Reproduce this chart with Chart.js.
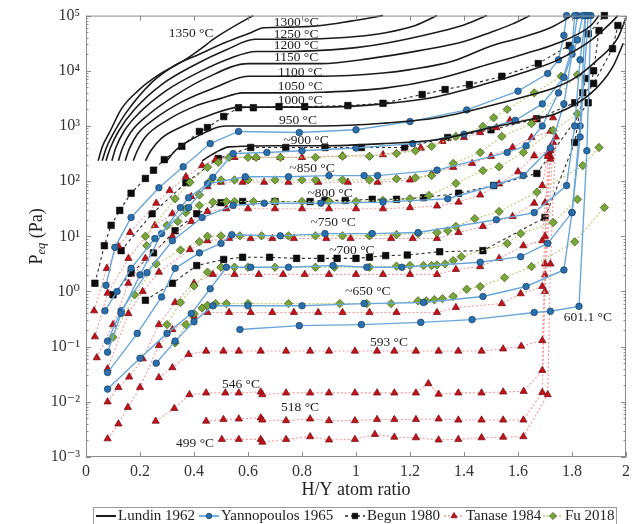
<!DOCTYPE html>
<html>
<head>
<meta charset="utf-8">
<script src="https://cdn.jsdelivr.net/npm/chart.js@4.4.0/dist/chart.umd.min.js"></script>
<style>
  html, body { margin: 0; padding: 0; background: #fff; }
  #wrap { width: 643px; height: 524px; position: relative; }
</style>
</head>
<body>
<div id="wrap"><canvas id="chart"></canvas></div>
<script>
// ---- data: [H/Y atom ratio, P_eq in Pa] ----

// Lundin 1962 isotherms (solid black)
const lundin1350 = [[0.045,234],[0.06,417],[0.089,794],[0.13,2000],[0.193,4370],[0.27,8500],[0.36,15100],[0.42,24000],[0.48,39800],[0.6,89100],[0.62,100000]];
const lundin1300 = [[0.06,234],[0.075,398],[0.1,708],[0.15,1780],[0.244,6170],[0.33,12600],[0.42,20000],[0.52,33100],[0.6,46800],[0.66,60300],[0.75,61700],[0.87,66100],[0.98,79400],[1.1,100000]];
const lundin1250 = [[0.074,234],[0.09,398],[0.12,794],[0.18,2000],[0.28,5620],[0.4,12600],[0.52,24000],[0.626,37200],[0.75,37200],[0.87,38000],[1.0,41700],[1.11,49000],[1.22,66100],[1.3,100000]];
const lundin1200 = [[0.096,234],[0.11,398],[0.14,794],[0.2,1780],[0.3,4470],[0.42,9550],[0.53,16600],[0.63,22400],[0.75,22400],[0.87,23400],[1.0,26300],[1.11,31600],[1.3,50100],[1.4,67600],[1.485,100000]];
const lundin1150 = [[0.12,234],[0.135,398],[0.165,759],[0.23,1580],[0.33,3550],[0.45,7590],[0.6,13500],[0.75,13500],[0.87,13500],[1.05,16600],[1.24,23400],[1.4,33900],[1.5,50100],[1.58,70800],[1.644,100000]];
const lundin1100 = [[0.145,234],[0.16,380],[0.19,708],[0.26,1410],[0.36,2820],[0.48,5010],[0.6,7940],[0.75,7940],[0.87,7940],[1.1,9120],[1.2,10500],[1.36,15100],[1.5,28200],[1.61,39800],[1.72,60300],[1.8,100000]];
const lundin1050 = [[0.175,234],[0.19,355],[0.22,631],[0.3,1260],[0.4,2240],[0.5,3160],[0.58,3980],[0.75,3980],[0.87,4070],[1.1,4790],[1.3,7080],[1.5,13500],[1.62,20000],[1.74,30900],[1.87,66100],[1.9,100000]];
const lundin1000 = [[0.22,234],[0.24,355],[0.28,603],[0.36,1000],[0.46,1580],[0.57,2190],[0.75,2190],[0.87,2190],[1.1,2510],[1.3,3390],[1.5,6170],[1.62,9330],[1.74,15100],[1.87,35500],[1.94,70800],[1.97,100000]];
const lundin950 = [[0.3,234],[0.33,355],[0.4,603],[0.52,1000],[0.7,1000],[0.87,1000],[1.1,1120],[1.3,1410],[1.5,2340],[1.64,3550],[1.74,5010],[1.82,7940],[1.89,15100],[1.97,39800],[2.0,91200]];
const lundin900 = [[0.43,234],[0.48,331],[0.53,417],[0.7,437],[0.87,437],[1.1,479],[1.3,562],[1.5,933],[1.65,1320],[1.74,1660],[1.87,3890],[1.95,11500],[1.99,31600]];

// Begun 1980 (black squares, dashed)
const begun1000 = [[0.033,1.41],[0.068,6.76],[0.093,15.8],[0.125,29.5],[0.167,60.3],[0.22,112],[0.25,158],[0.29,245],[0.355,427],[0.42,794],[0.45,933],[0.51,1480],[0.565,2140],[0.62,2140],[0.715,2240],[0.81,2240],[0.97,2340],[1.1,2570],[1.245,3720],[1.33,4570],[1.42,5620],[1.54,7940],[1.675,13500],[1.79,28800],[1.86,46800],[1.92,100000]];
const begun900 = [[0.13,5.5],[0.245,25.7],[0.37,93.3],[0.49,257],[0.61,407],[0.74,407],[0.885,407],[1.02,407],[1.18,407],[1.34,617],[1.5,851],[1.67,1350],[1.81,2630],[1.88,5890],[1.95,25100],[1.97,66100]];
const begun800 = [[0.1,0.871],[0.167,2.14],[0.25,5.01],[0.33,12.6],[0.41,25.7],[0.5,40.7],[0.58,42.7],[0.7,42.7],[0.83,42.7],[0.885,44.7],[0.96,44.7],[1.06,46.8],[1.15,46.8],[1.25,50.1],[1.38,60.3],[1.51,83.2],[1.67,138],[1.86,2630],[1.88,10000],[1.9,53700]];
const begun700 = [[0.22,0.692],[0.32,1.41],[0.41,2.95],[0.51,3.8],[0.58,4.17],[0.68,4.17],[0.78,3.98],[0.87,3.98],[0.93,3.98],[1.0,3.98],[1.05,4.17],[1.11,4.47],[1.19,4.57],[1.31,5.25],[1.47,5.5],[1.7,21.9],[1.81,501],[1.84,3980],[1.85,7240]];

// Yannopoulos 1965 (blue circles)
const yann950 = [[0.074,1.29],[0.107,6.31],[0.167,21.9],[0.27,75.9],[0.36,182],[0.46,479],[0.565,794],[0.79,759],[1.0,851],[1.2,1200],[1.41,1950],[1.6,4270],[1.71,8910],[1.75,15800],[1.77,43700],[1.78,100000]];
const yann900 = [[0.07,0.447],[0.115,1.0],[0.167,2.63],[0.255,9.12],[0.38,33.1],[0.47,117],[0.545,316],[0.67,331],[0.8,355],[1.0,398],[1.21,479],[1.4,708],[1.59,1260],[1.69,2510],[1.77,7590],[1.82,36300],[1.84,100000]];
const yann850 = [[0.08,0.0794],[0.13,0.398],[0.2,2.0],[0.28,11.2],[0.35,33.1],[0.38,50.1],[0.45,89.1],[0.59,120],[0.75,120],[0.9,126],[1.03,126],[1.08,126],[1.3,158],[1.56,331],[1.63,437],[1.69,1000],[1.75,3980],[1.8,25100],[1.81,100000]];
const yann800 = [[0.08,0.126],[0.13,0.447],[0.226,2.19],[0.32,8.32],[0.43,21.9],[0.545,36.3],[0.66,39.8],[0.87,39.8],[1.1,41.7],[1.34,47.9],[1.51,83.2],[1.62,126],[1.72,398],[1.77,2510],[1.8,20000],[1.82,100000]];
const yann750 = [[0.08,0.0339],[0.19,0.174],[0.28,0.794],[0.33,2.63],[0.42,5.01],[0.5,7.41],[0.54,10.7],[0.72,10.2],[0.885,11.2],[1.06,11.2],[1.23,11.7],[1.52,20.0],[1.66,26.9],[1.78,83.2],[1.81,1000],[1.83,15800],[1.85,100000]];
const yann700 = [[0.08,0.017],[0.2,0.0617],[0.3,0.174],[0.39,0.398],[0.46,1.12],[0.52,2.75],[0.61,2.75],[0.75,2.75],[0.915,2.95],[1.04,2.75],[1.17,2.75],[1.46,3.39],[1.61,4.27],[1.71,7.41],[1.8,26.9],[1.83,631],[1.86,100000]];
const yann650 = [[0.26,0.0501],[0.33,0.126],[0.4,0.282],[0.47,0.55],[0.6,0.55],[0.8,0.55],[1.03,0.603],[1.25,0.631],[1.47,0.813],[1.63,1.23],[1.77,2.45],[1.8,26.9],[1.83,1000],[1.85,100000]];
const yann601 = [[0.57,0.204],[0.79,0.24],[1.02,0.251],[1.24,0.275],[1.43,0.309],[1.66,0.417],[1.72,0.437],[1.826,0.537],[1.855,355],[1.87,100000]];

// Tanase 1984 (red triangles)
const tanase900 = [[0.03,0.447],[0.077,2.63],[0.12,6.61],[0.163,11.7],[0.26,39.8],[0.31,67.6],[0.37,120],[0.43,191],[0.48,245],[0.55,269],[0.63,269],[0.72,269],[0.8,269],[0.95,288],[1.1,302],[1.24,398],[1.32,525],[1.4,617],[1.46,759],[1.52,933],[1.57,1260],[1.66,1320],[1.73,1410]];
const tanase850 = [[0.033,0.151],[0.08,0.933],[0.157,3.98],[0.255,15.8],[0.32,25.7],[0.39,52.5],[0.45,79.4],[0.5,95.5],[0.58,95.5],[0.66,95.5],[0.75,95.5],[0.86,95.5],[0.97,95.5],[1.08,95.5],[1.2,105],[1.28,135],[1.36,178],[1.43,209],[1.5,282],[1.58,407],[1.65,617],[1.72,794]];
const tanase800 = [[0.04,0.0631],[0.1,0.251],[0.157,1.41],[0.22,3.98],[0.32,10.0],[0.39,18.6],[0.45,28.2],[0.52,31.6],[0.6,31.6],[0.7,31.6],[0.8,31.6],[0.9,31.6],[1.0,31.6],[1.1,31.6],[1.2,33.1],[1.3,35.5],[1.38,41.7],[1.46,56.2],[1.53,89.1],[1.6,148],[1.66,288],[1.72,355]];
const tanase750 = [[0.08,0.0398],[0.157,0.398],[0.21,1.0],[0.27,2.24],[0.385,5.75],[0.45,8.32],[0.53,9.12],[0.61,9.12],[0.69,9.12],[0.77,9.12],[0.89,9.12],[0.98,9.12],[1.13,9.12],[1.21,9.12],[1.3,9.12],[1.38,11.7],[1.47,15.1],[1.58,22.9],[1.66,39.8],[1.69,83.2],[1.71,282]];
const tanase700 = [[0.08,0.01],[0.12,0.0182],[0.16,0.0282],[0.21,0.0603],[0.27,0.251],[0.33,0.631],[0.4,1.41],[0.47,2.04],[0.55,2.04],[0.64,2.04],[0.73,2.04],[0.81,2.04],[0.9,2.04],[1.0,2.04],[1.1,2.04],[1.2,2.04],[1.3,2.04],[1.37,2.51],[1.46,2.82],[1.53,3.98],[1.62,6.76],[1.69,8.32],[1.7,40.7],[1.72,251]];
const tanase650 = [[0.08,0.00214],[0.12,0.00398],[0.155,0.00794],[0.2,0.0182],[0.27,0.105],[0.32,0.204],[0.4,0.355],[0.45,0.417],[0.53,0.417],[0.61,0.417],[0.69,0.417],[0.77,0.417],[0.86,0.417],[0.95,0.417],[1.05,0.417],[1.15,0.417],[1.3,0.417],[1.37,0.513],[1.54,0.603],[1.61,0.912],[1.69,1.23],[1.7,10.0],[1.72,282]];
const tanase593 = [[0.27,0.0275],[0.32,0.0417],[0.38,0.0724],[0.445,0.0832],[0.509,0.0832],[0.566,0.0832],[0.647,0.0832],[0.741,0.0832],[0.83,0.0832],[0.9,0.0832],[0.996,0.0832],[1.078,0.0832],[1.142,0.0832],[1.222,0.0832],[1.306,0.0832],[1.379,0.0832],[1.465,0.0832],[1.545,0.0912],[1.612,0.102],[1.69,0.129],[1.7,3.16],[1.71,316]];
const tanase546 = [[0.258,0.00447],[0.327,0.00759],[0.383,0.0135],[0.445,0.0145],[0.516,0.0145],[0.566,0.0145],[0.647,0.0151],[0.653,0.0135],[0.741,0.0145],[0.83,0.0145],[0.9,0.0145],[0.996,0.0145],[1.078,0.0145],[1.142,0.0145],[1.222,0.0145],[1.268,0.0214],[1.306,0.0138],[1.379,0.0145],[1.465,0.0145],[1.545,0.0151],[1.621,0.0155],[1.69,0.0372],[1.7,2.0],[1.72,398]];
const tanase518 = [[0.445,0.00447],[0.509,0.00479],[0.566,0.0049],[0.647,0.00513],[0.653,0.00468],[0.741,0.00457],[0.83,0.0049],[0.9,0.00457],[0.996,0.00457],[1.078,0.00479],[1.142,0.00479],[1.222,0.00479],[1.306,0.0049],[1.379,0.00468],[1.465,0.00468],[1.545,0.00468],[1.62,0.00468],[1.69,0.0148],[1.7,1.0],[1.73,501]];
const tanase499 = [[0.503,0.00209],[0.566,0.00209],[0.647,0.00209],[0.653,0.00186],[0.741,0.00209],[0.83,0.00234],[0.9,0.00204],[0.996,0.00209],[1.07,0.00257],[1.142,0.00229],[1.222,0.00224],[1.306,0.00204],[1.379,0.00209],[1.465,0.00224],[1.545,0.00229],[1.62,0.00234],[1.71,0.0135],[1.72,3.16],[1.74,631]];

// Fu 2018 (green diamonds)
const fu900 = [[0.22,10.0],[0.33,47.9],[0.385,95.5],[0.45,178],[0.49,219],[0.53,269],[0.6,269],[0.63,269],[0.72,269],[0.85,269],[0.95,282],[1.05,282],[1.15,316],[1.22,355],[1.28,427],[1.37,646],[1.47,977],[1.51,1410],[1.56,2000],[1.66,3980],[1.76,7940]];
const fu850 = [[0.3,15.8],[0.37,31.6],[0.42,56.2],[0.46,100],[0.5,105],[0.55,105],[0.6,105],[0.7,105],[0.8,105],[0.85,105],[0.95,105],[1.05,105],[1.15,110],[1.22,115],[1.28,126],[1.36,209],[1.46,331],[1.54,646],[1.65,1100],[1.82,8510]];
const fu800 = [[0.225,6.76],[0.34,18.6],[0.37,26.9],[0.42,36.3],[0.47,41.7],[0.52,42.7],[0.55,42.7],[0.62,42.7],[0.7,42.7],[0.8,42.7],[0.9,42.7],[1.0,42.7],[1.1,44.7],[1.2,47.9],[1.27,55],[1.37,91.2],[1.47,155],[1.53,182],[1.62,331],[1.73,832],[1.82,1660]];
const fu750 = [[0.1,0.148],[0.18,0.871],[0.26,3.16],[0.35,5.62],[0.42,7.94],[0.45,10.0],[0.5,10.2],[0.57,10.2],[0.65,10.2],[0.75,10.2],[0.85,10.2],[0.95,10.2],[1.05,10.2],[1.15,10.7],[1.23,11.2],[1.3,11.7],[1.34,12.6],[1.37,15.1],[1.44,20.9],[1.53,28.2],[1.67,63.1],[1.84,191],[1.9,407]];
const fu700 = [[0.3,0.251],[0.35,0.631],[0.4,1.26],[0.45,2.24],[0.5,2.75],[0.55,2.75],[0.6,2.75],[0.7,2.75],[0.85,2.75],[0.92,2.75],[1.05,2.75],[1.15,2.88],[1.2,2.95],[1.25,2.95],[1.28,2.95],[1.3,3.02],[1.33,3.16],[1.36,3.63],[1.39,4.27],[1.56,7.41],[1.61,11.2],[1.73,17.8],[1.82,46.8]];
const fu650 = [[0.33,0.117],[0.37,0.251],[0.4,0.398],[0.43,0.501],[0.45,0.562],[0.48,0.603],[0.52,0.603],[0.6,0.603],[0.75,0.603],[0.94,0.603],[1.04,0.603],[1.13,0.603],[1.23,0.676],[1.26,0.676],[1.29,0.708],[1.32,0.741],[1.36,0.813],[1.41,1.1],[1.46,1.23],[1.55,1.78],[1.65,2.82],[1.81,7.94],[1.92,33.1]];

// isotherm labels, anchored in data units
const labelText = ['1350 °C','1300 °C','1250 °C','1200 °C','1150 °C','1100 °C','1050 °C','1000 °C','950 °C','~900 °C','~850 °C','~800 °C','~750 °C','~700 °C','~650 °C','601.1 °C','593 °C','546 °C','518 °C','499 °C'];
const labelX = [0.389,0.778,0.778,0.778,0.778,0.793,0.793,0.793,0.785,0.815,0.837,0.904,0.915,0.985,1.044,1.859,1.122,0.574,0.793,0.404];
const labelP = [47200,74600,45300,28600,17300,9270,5170,2880,1250,544,169,59.6,17.8,5.53,1.0,0.338,0.119,0.0207,0.00792,0.00176];

const xTicks = [0,0.2,0.4,0.6,0.8,1,1.2,1.4,1.6,1.8,2];
const legendNames = ['Lundin 1962','Yannopoulos 1965','Begun 1980','Tanase 1984','Fu 2018'];

const SERIF = "'Liberation Serif', 'DejaVu Serif', 'Times New Roman', serif";

const STYLE = {
  lundin: { borderColor: '#1b1b1b', borderWidth: 1.6, pointRadius: 0, cubicInterpolationMode: 'monotone' },
  yann:   { borderColor: '#6aa7d8', borderWidth: 1.4, pointStyle: 'circle', pointRadius: 3.3,
            pointBackgroundColor: '#2c6fad', pointBorderColor: '#163d63', pointBorderWidth: 0.7 },
  begun:  { borderColor: '#2a2a2a', borderWidth: 1.1, borderDash: [3, 3], pointStyle: 'rect', pointRadius: 4.6,
            pointBackgroundColor: '#0d0d0d', pointBorderColor: '#000', pointBorderWidth: 0.6 },
  tanase: { borderColor: '#f29a9a', borderWidth: 1.1, borderDash: [2, 2], pointStyle: 'triangle', pointRadius: 4.2,
            pointBackgroundColor: '#c3121b', pointBorderColor: '#6b0a0e', pointBorderWidth: 0.7 },
  fu:     { borderColor: '#b4cf74', borderWidth: 1.1, borderDash: [2, 2], pointStyle: 'rectRot', pointRadius: 4.2,
            pointBackgroundColor: '#7aa53a', pointBorderColor: '#3a5718', pointBorderWidth: 0.7 },
};

function series(label, pts, family) {
  return Object.assign({
    label,
    data: pts.map(([x, y]) => ({ x, y })),
    showLine: true,
    tension: 0,
    fill: false,
    clip: 5,
  }, STYLE[family]);
}

const datasets = [
  ...[lundin1350, lundin1300, lundin1250, lundin1200, lundin1150, lundin1100, lundin1050, lundin1000, lundin950, lundin900]
    .map((d) => series('Lundin 1962', d, 'lundin')),
  ...[yann950, yann900, yann850, yann800, yann750, yann700, yann650, yann601]
    .map((d) => series('Yannopoulos 1965', d, 'yann')),
  ...[fu900, fu850, fu800, fu750, fu700, fu650]
    .map((d) => series('Fu 2018', d, 'fu')),
  ...[tanase900, tanase850, tanase800, tanase750, tanase700, tanase650, tanase593, tanase546, tanase518, tanase499]
    .map((d) => series('Tanase 1984', d, 'tanase')),
  ...[begun1000, begun900, begun800, begun700]
    .map((d) => series('Begun 1980', d, 'begun')),
];

const SUP = { '-': '⁻', '0': '⁰', '1': '¹', '2': '²', '3': '³', '4': '⁴', '5': '⁵' };
function decadeLabel(v) {
  const e = Math.log10(v);
  if (Math.abs(e - Math.round(e)) > 1e-6) return '';
  return '10' + String(Math.round(e)).split('').map((c) => SUP[c]).join('');
}

// box, inward ticks, isotherm labels, axis titles, legend
const decorPlugin = {
  id: 'decor',
  afterDatasetsDraw(chart) {
    const { ctx, chartArea: a, scales: { x, y } } = chart;
    ctx.save();
    ctx.strokeStyle = '#8c8c8c';
    ctx.lineWidth = 1;
    ctx.strokeRect(a.left + 0.5, a.top + 0.5, a.right - a.left - 1, a.bottom - a.top - 1);

    ctx.beginPath();
    xTicks.forEach((v) => {
      const px = Math.round(x.getPixelForValue(v)) + 0.5;
      ctx.moveTo(px, a.bottom); ctx.lineTo(px, a.bottom - 5);
      ctx.moveTo(px, a.top); ctx.lineTo(px, a.top + 5);
    });
    for (let e = -3; e <= 5; e++) {
      for (let m = 1; m <= 9; m++) {
        const v = m * Math.pow(10, e);
        if (v > 1e5 * 1.0001) break;
        const py = Math.round(y.getPixelForValue(v)) + 0.5;
        const len = m === 1 ? 5 : 2.5;
        ctx.moveTo(a.left, py); ctx.lineTo(a.left + len, py);
        ctx.moveTo(a.right, py); ctx.lineTo(a.right - len, py);
      }
    }
    ctx.stroke();

    ctx.fillStyle = '#222';
    ctx.font = '13.5px ' + SERIF;
    ctx.textAlign = 'center';
    ctx.textBaseline = 'middle';
    labelText.forEach((t, i) => {
      ctx.fillText(t, x.getPixelForValue(labelX[i]), y.getPixelForValue(labelP[i]));
    });
    ctx.restore();
  },
  afterDraw(chart) {
    const { ctx, chartArea: a } = chart;
    ctx.save();
    ctx.fillStyle = '#222';
    ctx.textBaseline = 'middle';

    // x title
    ctx.font = '18px ' + SERIF;
    ctx.textAlign = 'center';
    ctx.fillText('H/Y atom ratio', (a.left + a.right) / 2, 490);

    // y title: P_eq (Pa)
    ctx.translate(37, (a.top + a.bottom) / 2);
    ctx.rotate(-Math.PI / 2);
    ctx.textAlign = 'left';
    const big = '18px ' + SERIF, small = 'italic 12.5px ' + SERIF;
    ctx.font = big; const wP = ctx.measureText('P').width; const wRest = ctx.measureText(' (Pa)').width;
    ctx.font = small; const wSub = ctx.measureText('eq').width;
    let cx = -(wP + wSub + wRest) / 2;
    ctx.font = big; ctx.fillText('P', cx, 0); cx += wP;
    ctx.font = small; ctx.fillText('eq', cx, 5); cx += wSub;
    ctx.font = big; ctx.fillText(' (Pa)', cx, 0);
    ctx.setTransform(1, 0, 0, 1, 0, 0);

    // legend
    ctx.strokeStyle = '#9a9a9a';
    ctx.lineWidth = 1;
    ctx.strokeRect(93.5, 507.5, 523, 30);
    const fam = ['lundin', 'yann', 'begun', 'tanase', 'fu'];
    const startX = [96, 199, 345, 444, 543];
    const ly = 516;
    ctx.font = '15px ' + SERIF;
    fam.forEach((f, i) => {
      const s = STYLE[f];
      const x0 = startX[i], x1 = x0 + 20;
      ctx.save();
      ctx.strokeStyle = s.borderColor;
      ctx.lineWidth = f === 'lundin' ? 2 : s.borderWidth + 0.4;
      ctx.setLineDash(s.borderDash || []);
      ctx.beginPath(); ctx.moveTo(x0, ly); ctx.lineTo(x1, ly); ctx.stroke();
      ctx.setLineDash([]);
      if (s.pointRadius) {
        ctx.fillStyle = s.pointBackgroundColor;
        ctx.strokeStyle = s.pointBorderColor;
        ctx.lineWidth = s.pointBorderWidth;
        Chart.helpers.drawPoint(ctx, { pointStyle: s.pointStyle, radius: s.pointRadius * 0.85, rotation: 0, borderWidth: s.pointBorderWidth }, (x0 + x1) / 2, ly);
      }
      ctx.restore();
      ctx.fillStyle = '#222';
      ctx.textAlign = 'left';
      ctx.fillText(legendNames[i], x1 + 2, ly);
    });
    ctx.restore();
  },
};

new Chart(document.getElementById('chart'), {
  type: 'scatter',
  data: { datasets },
  options: {
    responsive: true,
    maintainAspectRatio: false,
    animation: false,
    layout: { padding: { left: 0, right: 17, top: 15, bottom: 17 } },
    plugins: { legend: { display: false }, tooltip: { enabled: false } },
    scales: {
      x: {
        type: 'linear', min: 0, max: 2,
        grid: { display: false, drawTicks: false },
        border: { display: false },
        ticks: {
          stepSize: 0.2, padding: 5, color: '#333', font: { family: SERIF, size: 16 },
          callback: (v) => String(Number(v.toFixed(1))),
        },
        afterFit(scale) { scale.height = 50; },
      },
      y: {
        type: 'logarithmic', min: 1e-3, max: 1e5,
        grid: { display: false, drawTicks: false },
        border: { display: false },
        ticks: {
          autoSkip: false, padding: 6, color: '#333', font: { family: SERIF, size: 16 },
          callback: (v) => decadeLabel(v),
        },
        afterFit(scale) { scale.width = 86; },
      },
    },
  },
  plugins: [decorPlugin],
});
</script>
</body>
</html>
